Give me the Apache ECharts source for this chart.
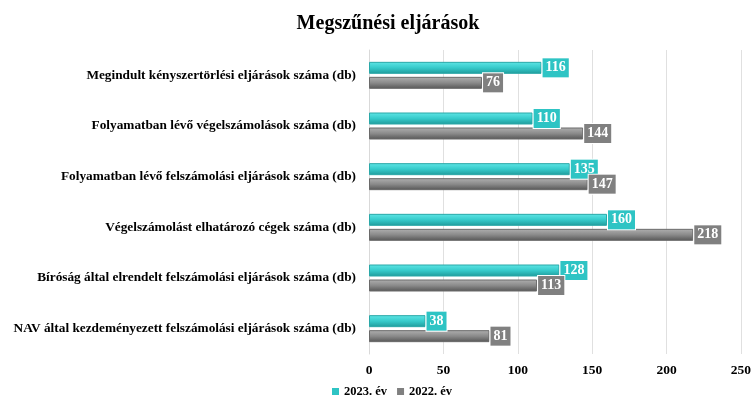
<!DOCTYPE html>
<html><head><meta charset="utf-8">
<script src="https://cdn.jsdelivr.net/npm/echarts@6/dist/echarts.min.js"></script>
<style>html,body{margin:0;padding:0;background:#fff}#c{width:754px;height:403px}</style>
</head><body><div id="c"></div>
<script>
const categories = [
  "Megindult kényszertörlési eljárások száma (db)",
  "Folyamatban lévő végelszámolások száma (db)",
  "Folyamatban lévő felszámolási eljárások száma (db)",
  "Végelszámolást elhatározó cégek száma (db)",
  "Bíróság által elrendelt felszámolási eljárások száma (db)",
  "NAV által kezdeményezett felszámolási eljárások száma (db)"
];
const values2023 = [116, 110, 135, 160, 128, 38];
const values2022 = [76, 144, 147, 218, 113, 81];
const seriesNames = ["2023. év", "2022. év"];
const xTicks = [0, 50, 100, 150, 200, 250];

const font = "'Liberation Serif','Times New Roman',serif";
const chart = echarts.init(document.getElementById('c'));
function grad(a, b, c) {
  return new echarts.graphic.LinearGradient(0, 0, 0, 1, [
    {offset: 0, color: a}, {offset: 0.5, color: b}, {offset: 1, color: c}
  ]);
}
function lbl(bg) {
  return {
    show: true, position: 'right', distance: 1,
    backgroundColor: bg, color: '#fff', fontFamily: font, fontWeight: 'bold',
    fontSize: 14, padding: [3, 3, 2, 3], borderColor: '#fff', borderWidth: 1
  };
}
chart.setOption({
  animation: false,
  title: {
    text: "Megszűnési eljárások", left: 383, top: 9, textAlign: 'center',
    textStyle: {fontFamily: font, fontWeight: 'bold', fontSize: 20, color: '#000'}
  },
  grid: {left: 369, right: 8, top: 50, bottom: 49, containLabel: false},
  legend: {
    left: 327, bottom: 0, itemWidth: 7, itemHeight: 7, itemGap: 10,
    icon: 'rect',
    textStyle: {fontFamily: font, fontWeight: 'bold', fontSize: 12.5, color: '#000'},
    data: seriesNames
  },
  xAxis: {
    type: 'value', min: xTicks[0], max: xTicks[xTicks.length - 1], interval: 50,
    axisLine: {show: false}, axisTick: {show: false},
    splitLine: {lineStyle: {color: '#e0e0e0'}},
    axisLabel: {fontFamily: font, fontWeight: 'bold', fontSize: 13.5, color: '#000', margin: 10}
  },
  yAxis: {
    type: 'category', inverse: true, data: categories,
    axisLine: {show: true, lineStyle: {color: '#d9d9d9'}}, axisTick: {show: false},
    axisLabel: {fontFamily: font, fontWeight: 'bold', fontSize: 13.3, color: '#000', margin: 13}
  },
  series: [
    {
      name: seriesNames[0], type: 'bar', data: values2023, barWidth: 12, barGap: '25%',
      itemStyle: {color: grad('#5fe6e6', '#36caca', '#1f9a9a'), borderColor: '#2aa8a8', borderWidth: 1},
      label: lbl('#2ec4c4')
    },
    {
      name: seriesNames[1], type: 'bar', data: values2022, barWidth: 12,
      itemStyle: {color: grad('#b0b0b0', '#8a8a8a', '#555555'), borderColor: '#6a6a6a', borderWidth: 1},
      label: lbl('#808080')
    }
  ]
});
chart.setOption({legend: {data: [
  {name: seriesNames[0], itemStyle: {color: '#2ec4c4', borderWidth: 0}},
  {name: seriesNames[1], itemStyle: {color: '#808080', borderWidth: 0}}
]}});
</script>
</body></html>
